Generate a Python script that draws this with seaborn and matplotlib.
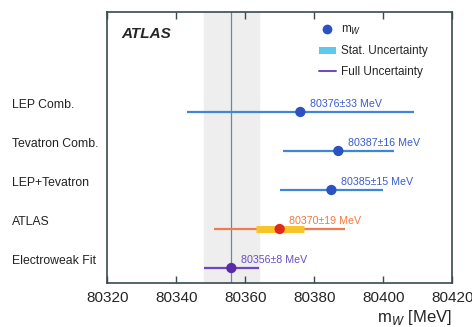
import numpy as np
import pandas as pd
import matplotlib
matplotlib.use("Agg")
import matplotlib.pyplot as plt
import matplotlib.transforms as mtransforms
from matplotlib.lines import Line2D
from matplotlib.patches import Patch
import seaborn as sns

sns.set_style("white")
plt.rcParams['font.family'] = ['Liberation Sans', 'DejaVu Sans']

# data
experiments = ['LEP Comb.', 'Tevatron Comb.', 'LEP+Tevatron', 'ATLAS', 'Electroweak Fit']
mw = [80376, 80387, 80385, 80370, 80356]
full_unc = [33, 16, 15, 19, 8]
stat_unc = [0, 0, 0, 7, 0]
value_labels = ['80376\u00b133 MeV', '80387\u00b116 MeV', '80385\u00b115 MeV', '80370\u00b119 MeV', '80356\u00b18 MeV']
ew_fit = 80356
ew_err = 8

point_colors = ['#2a52c0', '#2a52c0', '#2a52c0', '#e02a1e', '#5a2aa8']
line_colors = ['#3f86d8', '#3f86d8', '#3f86d8', '#f27a50', '#6e44c8']
text_colors = ['#3a5ccc', '#3a5ccc', '#3a5ccc', '#f27a40', '#6a4cc4']

df = pd.DataFrame({'exp': experiments, 'mw': mw, 'full': full_unc, 'stat': stat_unc})
df['y'] = np.arange(len(df))

fig = plt.figure(figsize=(4.72, 3.27), dpi=100)
ax = fig.add_axes([0.227, 0.135, 0.731, 0.828])

# electroweak fit band
ax.axvspan(ew_fit - ew_err, ew_fit + ew_err, color='#eeeeee', zorder=0)
ax.axvline(ew_fit, color='#5f8f9c', lw=0.9, zorder=1)

for i, r in df.iterrows():
    ax.hlines(r['y'], r['mw'] - r['full'], r['mw'] + r['full'], color=line_colors[i], lw=1.6, zorder=2)
    if r['stat'] > 0:
        ax.hlines(r['y'], r['mw'] - r['stat'], r['mw'] + r['stat'], color='#f8c428', lw=5, zorder=3)
    ax.annotate(value_labels[i], (r['mw'], r['y']), xytext=(7, 2), textcoords='offset points',
                ha='left', va='bottom', fontsize=7.7, color=text_colors[i])

sns.scatterplot(data=df, x='mw', y='y', hue='exp', palette=point_colors, s=55,
                edgecolor='none', legend=False, ax=ax, zorder=4)

ax.set_xlim(80320, 80420)
ax.set_ylim(4.38, -2.56)
ax.set_xticks([80320, 80340, 80360, 80380, 80400, 80420])
ax.set_yticks([])
ax.set_ylabel('')
ax.set_xlabel('m$_W$ [MeV]', loc='right', fontsize=12, labelpad=2)
ax.tick_params(axis='x', direction='in', top=True, bottom=True, length=5, width=1.0,
               labelsize=11, color='#3a4a50', pad=6)
for sp in ax.spines.values():
    sp.set_color('#3a4a50')
    sp.set_linewidth(1.2)

# experiment names on the left
trans = mtransforms.blended_transform_factory(fig.transFigure, ax.transData)
for i, name in enumerate(experiments):
    ax.text(0.025, i - 0.18, name, transform=trans, ha='left', va='center', fontsize=8.8, color='#222222')

ax.text(0.04, 0.92, 'ATLAS', transform=ax.transAxes, fontsize=11, fontweight='bold',
        fontstyle='italic', ha='left', va='center')

handles = [
    Line2D([], [], marker='o', linestyle='none', color='#2a52c0', markersize=6),
    Patch(facecolor='#5bc8f0', edgecolor='none'),
    Line2D([], [], color='#6e44c8', lw=1.4),
]
leg = ax.legend(handles, ['m$_W$', 'Stat. Uncertainty', 'Full Uncertainty'], loc='upper right',
                bbox_to_anchor=(0.96, 0.995), frameon=False, fontsize=8.5, handlelength=1.5,
                handleheight=0.5, labelspacing=0.7, handletextpad=0.4)

fig.savefig('out.png', dpi=100)
